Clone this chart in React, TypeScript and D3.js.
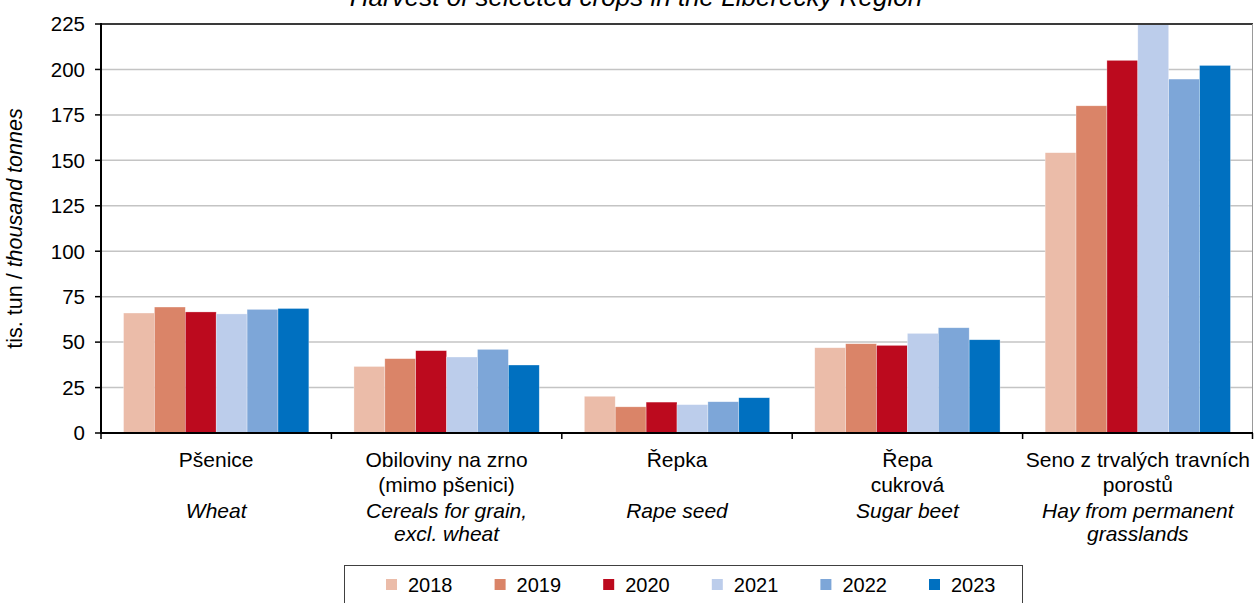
import { useEffect, useRef } from 'react';
import * as d3 from 'd3';

// categories (Czech / English label lines)
const categoriesCz: string[][] = [
    ['Pšenice'],
    ['Obiloviny na zrno', '(mimo pšenici)'],
    ['Řepka'],
    ['Řepa', 'cukrová'],
    ['Seno z trvalých travních', 'porostů'],
];
const categoriesEn: string[][] = [
    ['Wheat'],
    ['Cereals for grain,', 'excl. wheat'],
    ['Rape seed'],
    ['Sugar beet'],
    ['Hay from permanent', 'grasslands'],
];

const years = ['2018', '2019', '2020', '2021', '2022', '2023'];

// thousand tonnes, one value per category
const values2018 = [66.0, 36.6, 20.2, 46.9, 154.2];
const values2019 = [69.3, 40.9, 14.4, 49.1, 180.0];
const values2020 = [66.6, 45.3, 17.0, 48.2, 205.0];
const values2021 = [65.5, 41.8, 15.6, 54.8, 232.0];
const values2022 = [68.0, 46.0, 17.2, 57.9, 194.7];
const values2023 = [68.5, 37.4, 19.4, 51.3, 202.2];

const yTicks = [0, 25, 50, 75, 100, 125, 150, 175, 200, 225];

const colors = ['#EBBCA9', '#DA8468', '#BC0A1E', '#BCCDEB', '#7DA6D8', '#0070C0'];

const W = 1254;
const H = 603;
const FONT = 'Arial, "Liberation Sans", sans-serif';

const App = () => {
    const svgRef = useRef<SVGSVGElement | null>(null);

    useEffect(() => {
        document.body.style.margin = '0';
        const series = [values2018, values2019, values2020, values2021, values2022, values2023];

        const svg = d3.select(svgRef.current);
        svg.selectAll('*').remove();

        const margin = { top: 24, right: 1, bottom: 170, left: 101 };
        const plotW = W - margin.left - margin.right;
        const plotH = H - margin.top - margin.bottom;

        const x0 = d3.scaleBand<number>()
            .domain(categoriesCz.map((_, i) => i))
            .range([margin.left, margin.left + plotW]);

        const x1 = d3.scaleBand<string>()
            .domain(years)
            .range([0, x0.bandwidth()])
            .paddingOuter(0.73)
            .paddingInner(0);

        const y = d3.scaleLinear()
            .domain([0, 225])
            .range([margin.top + plotH, margin.top]);

        // title (cut at the top edge)
        svg.append('text')
            .attr('x', 636)
            .attr('y', 6)
            .attr('text-anchor', 'middle')
            .style('font-family', FONT)
            .style('font-style', 'italic')
            .style('font-size', '26px')
            .attr('fill', '#000')
            .text('Harvest of selected crops in the Liberecký Region');

        // gridlines
        svg.append('g')
            .selectAll('line')
            .data(yTicks.filter(t => t > 0 && t < 225))
            .enter()
            .append('line')
            .attr('x1', margin.left)
            .attr('x2', margin.left + plotW)
            .attr('y1', d => y(d))
            .attr('y2', d => y(d))
            .attr('stroke', '#C4C4C4')
            .attr('stroke-width', 1.5);

        // bars
        const defs = svg.append('defs');
        defs.append('clipPath')
            .attr('id', 'plot-clip')
            .append('rect')
            .attr('x', margin.left)
            .attr('y', margin.top)
            .attr('width', plotW)
            .attr('height', plotH);

        const barsG = svg.append('g').attr('clip-path', 'url(#plot-clip)');
        series.forEach((vals, si) => {
            barsG.selectAll(`.bar-${si}`)
                .data(vals)
                .enter()
                .append('rect')
                .attr('x', (_, ci) => (x0(ci) ?? 0) + (x1(years[si]) ?? 0))
                .attr('y', d => y(d))
                .attr('width', x1.bandwidth())
                .attr('height', d => y(0) - y(d))
                .attr('fill', colors[si])
                .attr('stroke', 'rgba(255,255,255,0.5)')
                .attr('stroke-width', 0.6);
        });

        // frame
        svg.append('line')
            .attr('x1', margin.left).attr('x2', margin.left + plotW)
            .attr('y1', margin.top).attr('y2', margin.top)
            .attr('stroke', '#3A3A3A').attr('stroke-width', 2);
        svg.append('line')
            .attr('x1', margin.left + plotW - 0.5).attr('x2', margin.left + plotW - 0.5)
            .attr('y1', margin.top).attr('y2', margin.top + plotH)
            .attr('stroke', '#9A9A9A').attr('stroke-width', 1);

        // y axis
        const yAxis = svg.append('g');
        yAxis.append('line')
            .attr('x1', margin.left).attr('x2', margin.left)
            .attr('y1', margin.top - 1).attr('y2', margin.top + plotH + 1)
            .attr('stroke', '#000').attr('stroke-width', 2);
        yAxis.selectAll('.ytick')
            .data(yTicks)
            .enter()
            .append('line')
            .attr('x1', margin.left - 6)
            .attr('x2', margin.left)
            .attr('y1', d => y(d))
            .attr('y2', d => y(d))
            .attr('stroke', '#000')
            .attr('stroke-width', 1.5);
        yAxis.selectAll('.ylabel')
            .data(yTicks)
            .enter()
            .append('text')
            .attr('x', margin.left - 16)
            .attr('y', d => y(d))
            .attr('dy', '0.36em')
            .attr('text-anchor', 'end')
            .style('font-family', FONT)
            .style('font-size', '20.5px')
            .attr('fill', '#000')
            .text(d => d);

        // y title
        const yTitle = svg.append('text')
            .attr('transform', `translate(22,${margin.top + plotH / 2}) rotate(-90)`)
            .attr('text-anchor', 'middle')
            .style('font-family', FONT)
            .style('font-size', '21.5px')
            .attr('fill', '#000');
        yTitle.append('tspan').text('tis. tun / ');
        yTitle.append('tspan').style('font-style', 'italic').text('thousand tonnes');

        // x axis
        const xAxis = svg.append('g');
        xAxis.append('line')
            .attr('x1', margin.left - 1).attr('x2', margin.left + plotW)
            .attr('y1', y(0)).attr('y2', y(0))
            .attr('stroke', '#000').attr('stroke-width', 2);
        const boundaries = categoriesCz.map((_, i) => x0(i) ?? 0).concat([margin.left + plotW - 0.5]);
        xAxis.selectAll('.xtick')
            .data(boundaries)
            .enter()
            .append('line')
            .attr('x1', d => d).attr('x2', d => d)
            .attr('y1', y(0)).attr('y2', y(0) + 6)
            .attr('stroke', '#000')
            .attr('stroke-width', 1.5);

        const lineH = 25;
        categoriesCz.forEach((lines, ci) => {
            const cx = (x0(ci) ?? 0) + x0.bandwidth() / 2;
            lines.forEach((t, li) => {
                xAxis.append('text')
                    .attr('x', cx)
                    .attr('y', 467 + li * lineH)
                    .attr('text-anchor', 'middle')
                    .style('font-family', FONT)
                    .style('font-size', '21px')
                    .attr('fill', '#000')
                    .text(t);
            });
            categoriesEn[ci].forEach((t, li) => {
                xAxis.append('text')
                    .attr('x', cx)
                    .attr('y', 518 + li * 23)
                    .attr('text-anchor', 'middle')
                    .style('font-family', FONT)
                    .style('font-style', 'italic')
                    .style('font-size', '21px')
                    .attr('fill', '#000')
                    .text(t);
            });
        });

        // legend
        const legend = svg.append('g');
        legend.append('rect')
            .attr('x', 344.5)
            .attr('y', 565.5)
            .attr('width', 678)
            .attr('height', 60)
            .attr('fill', '#fff')
            .attr('stroke', '#404040')
            .attr('stroke-width', 1);
        const legendX = d3.scalePoint<string>()
            .domain(years)
            .range([386, 386 + 5 * 108.6]);
        const items = legend.selectAll('.item')
            .data(years)
            .enter()
            .append('g')
            .attr('transform', d => `translate(${legendX(d)},0)`);
        items.append('rect')
            .attr('x', 0)
            .attr('y', 579)
            .attr('width', 11)
            .attr('height', 11)
            .attr('fill', (_, i) => colors[i]);
        items.append('text')
            .attr('x', 22)
            .attr('y', 585)
            .attr('dy', '0.36em')
            .style('font-family', FONT)
            .style('font-size', '20px')
            .attr('fill', '#000')
            .text(d => d);
    }, []);

    return <svg ref={svgRef} width={W} height={H} style={{ display: 'block' }} />;
};

export default App;
